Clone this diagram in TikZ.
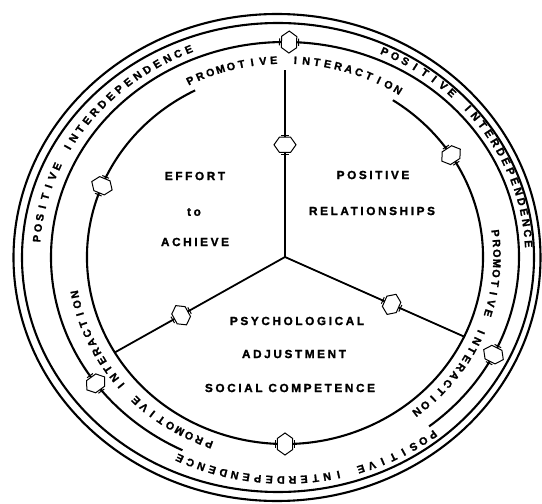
\documentclass[tikz,border=0pt]{standalone}
\usepackage{fontspec}
\setmainfont{Liberation Sans}
\newfontfamily\ringfont[FakeBold=1.4]{Liberation Sans Bold}
\newfontfamily\lblfont[LetterSpace=22, FakeBold=1.4]{Liberation Sans Bold}
\usetikzlibrary{calc}
\tikzset{
  ringline/.style={line width=2.1pt},
  spokeline/.style={line width=1.8pt},
  ringchar/.style={font=\ringfont\fontsize{10.8}{12}\selectfont, inner sep=0pt},
  ctrlabel/.style={font=\lblfont\fontsize{11.8}{13}\selectfont, inner sep=0pt},
  dblhex/.pic={
    \draw[line width=1pt, fill=white] (0,11)--(7.6,5.6)--(7.6,-5.6)--(0,-11)--(-7.6,-5.6)--(-7.6,5.6)--cycle;
    \draw[line width=1pt] (9.6,-3.6)--(9.6,3.6) (-9.6,-3.6)--(-9.6,3.6);
  }
}
\newcommand\ringtext[6]{%
  \foreach \ch [count=\i from 0] in {#6} {%
    \pgfmathsetmacro\angc{#4-\i*#5}%
    \node[ringchar, rotate=\angc-90] (#1-\i) at (\angc:#2 and #3) {\ch};
  }%
}
\begin{document}
\begin{tikzpicture}[x=1pt,y=1pt]
\useasboundingbox (-285,-247) rectangle (257,257);
% outer double ring
\draw[ringline] (-8,-0.5) ellipse [x radius=263.5, y radius=243.5];
\draw[ringline] (-7,-0.5) ellipse [x radius=256, y radius=234.5];
% spokes
\coordinate (ctr) at (0,0);
\coordinate (s1) at (90:198 and 187);
\coordinate (s2) at (-25.2:198 and 187);
\coordinate (s3) at (210.7:198 and 187);
\draw[spokeline] (ctr)--(s1) (ctr)--(s2) (ctr)--(s3);
% middle ring (gap at bottom for text)
\draw[ringline] (-52:234 and 215) arc[start angle=-52, end angle=244, x radius=234, y radius=215];
% inner ring (gap at top for text)
\draw[ringline] (117:198 and 187) arc[start angle=117, end angle=417, x radius=198, y radius=187];
% double arrows on spokes
\path (ctr)--(s1) coordinate[pos=0.6] (h1);
\path (ctr)--(s2) coordinate[pos=0.595] (h2);
\path (ctr)--(s3) coordinate[pos=0.61] (h3);
\pic[rotate=90] at (h1) {dblhex};
\pic[rotate=-24] at (h2) {dblhex};
\pic[rotate=29] at (h3) {dblhex};
% double arrows on middle ring
\coordinate (m1) at (89:234 and 215);
\coordinate (m2) at (-27:234 and 215);
\coordinate (m3) at (216:234 and 215);
\pic[rotate=179] at (m1) {dblhex};
\pic[rotate=63] at (m2) {dblhex};
\pic[rotate=306] at (m3) {dblhex};
% double arrows on inner ring
\coordinate (n1) at (157.6:198 and 187);
\coordinate (n2) at (33:198 and 187);
\coordinate (n3) at (270:198 and 187);
\pic[rotate=247.6] at (n1) {dblhex};
\pic[rotate=123] at (n2) {dblhex};
\pic[rotate=0] at (n3) {dblhex};
% ring texts
\ringtext{pt}{213}{197}{116.4}{2.92}{P,R,O,M,O,T,I,V,E,{},I,N,T,E,R,A,C,T,I,O,N}
\ringtext{pr}{212}{198}{6.9}{2.92}{P,R,O,M,O,T,I,V,E,{},I,N,T,E,R,A,C,T,I,O,N}
\ringtext{pl}{214}{200}{249.2}{2.92}{P,R,O,M,O,T,I,V,E,{},I,N,T,E,R,A,C,T,I,O,N}
\ringtext{iul}{249}{225}{175.3}{2.72}{P,O,S,I,T,I,V,E,{},I,N,T,E,R,D,E,P,E,N,D,E,N,C,E}
\ringtext{iur}{244}{225}{65.9}{2.72}{P,O,S,I,T,I,V,E,{},I,N,T,E,R,D,E,P,E,N,D,E,N,C,E}
\ringtext{ib}{245}{223}{-52.9}{2.72}{P,O,S,I,T,I,V,E,{},I,N,T,E,R,D,E,P,E,N,D,E,N,C,E}
% centre labels
\node[ctrlabel] (l1) at (-90,81) {EFFORT};
\node[ctrlabel] (l2) at (-91,45) {to};
\node[ctrlabel] (l3) at (-90,15) {ACHIEVE};
\node[ctrlabel] (l4) at (88,82) {POSITIVE};
\node[ctrlabel] (l5) at (87,46) {RELATIONSHIPS};
\node[ctrlabel] (l6) at (12,-64) {PSYCHOLOGICAL};
\node[ctrlabel] (l7) at (9,-97) {ADJUSTMENT};
\node[ctrlabel] (l8) at (5,-131) {SOCIAL COMPETENCE};
\end{tikzpicture}
\end{document}
